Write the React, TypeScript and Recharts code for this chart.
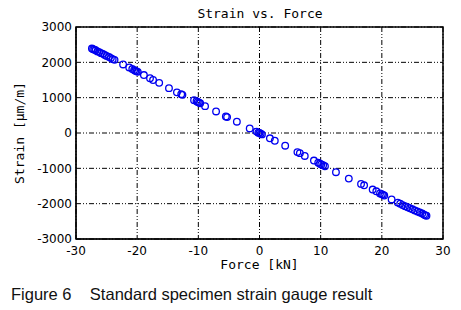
import React from "react";
import {
  ScatterChart,
  Scatter,
  XAxis,
  YAxis,
  CartesianGrid,
  ReferenceArea,
} from "recharts";

const forceKN: number[] = [
  -27.4, -27.2, -27.0, -26.8, -26.5, -26.2, -25.9, -25.6, -25.3, -25.0, -24.6, -24.3, -24.0, -23.7,
  -22.3, -21.3, -20.8, -20.5, -20.3, -20.1, -19.9, -18.9, -17.9, -17.4, -16.4, -14.8, -13.5, -12.8,
  -12.6, -10.7, -10.3, -10.1, -9.9, -9.7, -8.9, -7.1, -5.5, -5.3, -3.7, -1.6, -0.5, -0.2, 0.0, 0.2,
  0.4, 1.7, 2.5, 4.2, 6.2, 6.6, 7.4, 8.9, 9.6, 9.9, 10.1, 10.4, 10.7, 12.5, 14.6, 16.6, 17.1, 18.5,
  19.1, 19.7, 20.0, 20.2, 20.4, 21.6, 22.6, 23.0, 23.4, 23.8, 24.2, 24.6, 25.0, 25.4, 25.8, 26.2,
  26.6, 26.9, 27.1, 27.3,
];

const strainUm: number[] = [
  2390, 2370, 2360, 2340, 2310, 2290, 2260, 2240, 2210, 2180, 2150, 2120, 2090, 2070,
  1940, 1855, 1810, 1780, 1760, 1745, 1730, 1640, 1550, 1500, 1420, 1270, 1150, 1100,
  1080, 930, 900, 880, 860, 840, 760, 610, 470, 450, 320, 130, 40, 10, 0, -20,
  -40, -150, -220, -360, -540, -570, -650, -780, -840, -870, -890, -910, -940, -1110, -1290, -1440, -1480, -1600,
  -1650, -1710, -1730, -1750, -1770, -1880, -1970, -2000, -2040, -2070, -2100, -2130, -2160, -2190, -2220, -2250,
  -2280, -2310, -2330, -2340,
];

const xTicks: number[] = [-30, -20, -10, 0, 10, 20, 30];
const yTicks: number[] = [-3000, -2000, -1000, 0, 1000, 2000, 3000];

const data = forceKN.map((f, i) => ({ force: f, strain: strainUm[i] }));

const mono = "'DejaVu Sans Mono', monospace";
const sans = "'DejaVu Sans', sans-serif";

const OpenCircle = (props: any) => {
  const { cx, cy } = props;
  if (cx == null || cy == null) return null;
  return <circle cx={cx} cy={cy} r={3.3} fill="none" stroke="#0000f0" strokeWidth={1.3} />;
};

export default function App() {
  return (
    <div style={{ position: "absolute", left: 0, top: 0, width: 461, height: 310, background: "#fff" }}>
      <div
        style={{
          position: "absolute",
          left: 0,
          top: 6,
          width: 520,
          textAlign: "center",
          fontFamily: mono,
          fontSize: 13,
          color: "#000",
        }}
      >
        Strain vs. Force
      </div>
      <ScatterChart
        width={461}
        height={280}
        margin={{ top: 27, right: 18, left: 16, bottom: 1 }}
        style={{ position: "absolute", left: 0, top: 0 }}
      >
        <CartesianGrid stroke="#000" strokeDasharray="5 2 1 2 1 2" strokeWidth={1} />
        <XAxis
          type="number"
          dataKey="force"
          domain={[-30, 30]}
          ticks={xTicks}
          height={40}
          tickSize={0}
          tickMargin={7}
          axisLine={{ stroke: "#000" }}
          tick={{ fill: "#000", fontFamily: sans, fontSize: 12 }}
          allowDataOverflow
          label={{
            value: "Force [kN]",
            position: "insideBottom",
            offset: 10,
            style: { fontFamily: mono, fontSize: 13, fill: "#000" },
          }}
        />
        <YAxis
          type="number"
          dataKey="strain"
          domain={[-3000, 3000]}
          ticks={yTicks}
          width={60}
          tickSize={0}
          tickMargin={4}
          axisLine={{ stroke: "#000" }}
          tick={{ fill: "#000", fontFamily: sans, fontSize: 12 }}
          allowDataOverflow
          label={{
            value: "Strain [µm/m]",
            angle: -90,
            position: "insideLeft",
            offset: 3,
            style: { fontFamily: mono, fontSize: 13, fill: "#000", textAnchor: "middle" },
          }}
        />
        <ReferenceArea
          x1={-30}
          x2={30}
          y1={-3000}
          y2={3000}
          fill="none"
          fillOpacity={0}
          stroke="#000"
          strokeWidth={1.5}
          ifOverflow="visible"
        />
        <Scatter data={data} shape={OpenCircle} isAnimationActive={false} />
      </ScatterChart>
      <div
        style={{
          position: "absolute",
          left: 11,
          top: 285,
          fontFamily: "'Liberation Sans', Arial, sans-serif",
          fontSize: 16.5,
          color: "#111",
          whiteSpace: "pre",
        }}
      >
        {"Figure 6    Standard specimen strain gauge result"}
      </div>
    </div>
  );
}
